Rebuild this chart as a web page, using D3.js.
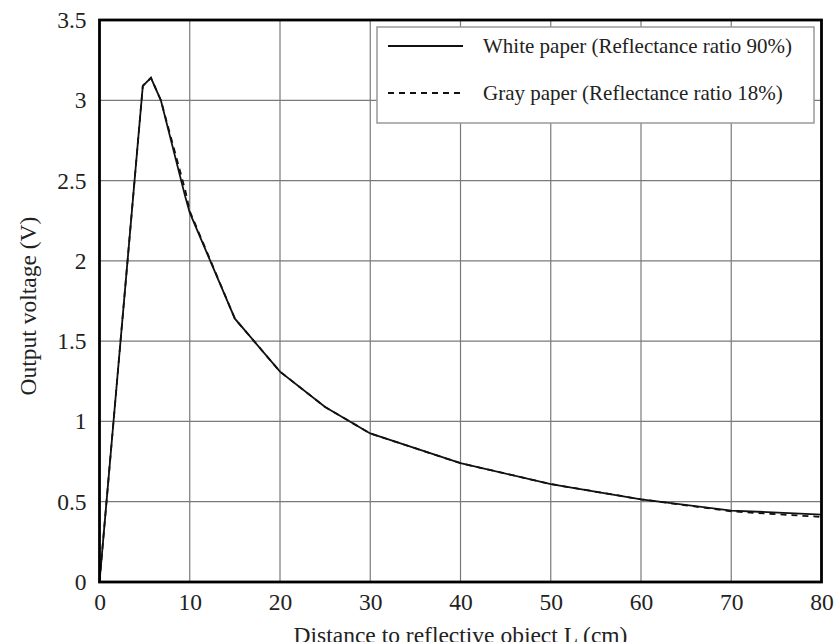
<!DOCTYPE html>
<html>
<head>
<meta charset="utf-8">
<script src="https://cdn.jsdelivr.net/npm/d3@7"></script>
<style>
  body { margin: 0; background: #fff; }
  svg { display: block; font-family: "Liberation Serif", "DejaVu Serif", serif; }
</style>
</head>
<body>
<script>
var distance = [0, 4.8, 5.7, 6.8, 9.5, 10, 15, 20, 25, 30, 40, 50, 60, 70, 80];
var whitePaper = [0, 3.09, 3.14, 3.0, 2.40, 2.30, 1.64, 1.31, 1.09, 0.925, 0.74, 0.61, 0.515, 0.445, 0.42];
var grayPaper = [0, 3.09, 3.14, 3.0, 2.44, 2.31, 1.64, 1.31, 1.09, 0.925, 0.74, 0.61, 0.515, 0.44, 0.405];
var xTicks = [0, 10, 20, 30, 40, 50, 60, 70, 80];
var yTicks = [0, 0.5, 1, 1.5, 2, 2.5, 3, 3.5];
var legendLabels = ["White paper (Reflectance ratio 90%)", "Gray paper (Reflectance ratio 18%)"];

var drawChart = function(){

    var W = 834, H = 642;
    var plotL = 99.5, plotR = 821.5, plotT = 20, plotB = 582;

    var svg = d3.select("body").append("svg")
                .attr("width", W)
                .attr("height", H);

    var x = d3.scaleLinear().domain([0, 80]).range([plotL, plotR]);
    var y = d3.scaleLinear().domain([0, 3.5]).range([plotB, plotT]);

    // grid
    var grid = svg.append("g").attr("class", "grid");
    grid.selectAll("line.vx").data(xTicks.slice(1, -1)).enter().append("line")
        .attr("x1", d => x(d)).attr("x2", d => x(d))
        .attr("y1", plotT).attr("y2", plotB)
        .attr("stroke", "#7a7a7a").attr("stroke-width", 1.2);
    grid.selectAll("line.hy").data(yTicks.slice(1, -1)).enter().append("line")
        .attr("x1", plotL).attr("x2", plotR)
        .attr("y1", d => y(d)).attr("y2", d => y(d))
        .attr("stroke", "#7a7a7a").attr("stroke-width", 1.2);

    // axes (labels only, frame drawn separately)
    var xAxis = svg.append("g")
        .attr("transform", "translate(0," + plotB + ")")
        .call(d3.axisBottom(x).tickValues(xTicks).tickSize(0).tickPadding(11).tickFormat(d3.format("d")));
    var yAxis = svg.append("g")
        .attr("transform", "translate(" + plotL + ",0)")
        .call(d3.axisLeft(y).tickValues(yTicks).tickSize(0).tickPadding(13).tickFormat(d => String(d)));
    [xAxis, yAxis].forEach(function(a){
        a.select(".domain").remove();
        a.selectAll("text").attr("font-size", 23.5).attr("font-family", "Liberation Serif").attr("fill", "#222");
    });

    // legend
    var lg = svg.append("g");
    lg.append("rect")
      .attr("x", 377).attr("y", 27).attr("width", 437).attr("height", 96)
      .attr("fill", "#fff").attr("stroke", "#999").attr("stroke-width", 1.5);
    var styles = ["none", "6,5"];
    legendLabels.forEach(function(t, i){
        var yy = 46 + i * 47;
        lg.append("line")
          .attr("x1", 388).attr("x2", 463).attr("y1", yy).attr("y2", yy)
          .attr("stroke", "#111").attr("stroke-width", 2)
          .attr("stroke-dasharray", styles[i]);
        lg.append("text")
          .attr("x", 483).attr("y", yy + 7)
          .attr("font-size", 21).attr("fill", "#222")
          .text(t);
    });

    // series
    var line = d3.line().x(d => x(d[0])).y(d => y(d[1]));
    svg.append("path")
       .datum(d3.zip(distance, grayPaper))
       .attr("d", line).attr("fill", "none")
       .attr("stroke", "#111").attr("stroke-width", 1.8)
       .attr("stroke-dasharray", "6,5");
    svg.append("path")
       .datum(d3.zip(distance, whitePaper))
       .attr("d", line).attr("fill", "none")
       .attr("stroke", "#111").attr("stroke-width", 1.8);

    // frame
    svg.append("rect")
       .attr("x", plotL).attr("y", plotT)
       .attr("width", plotR - plotL).attr("height", plotB - plotT)
       .attr("fill", "none").attr("stroke", "#000").attr("stroke-width", 2.8);

    // axis titles
    svg.append("text")
       .attr("x", (plotL + plotR) / 2).attr("y", 643)
       .attr("text-anchor", "middle").attr("font-size", 23.5).attr("fill", "#222")
       .text("Distance to reflective object L (cm)");
    svg.append("text")
       .attr("transform", "translate(36,306) rotate(-90)")
       .attr("text-anchor", "middle").attr("font-size", 23.5).attr("fill", "#222")
       .text("Output voltage (V)");
};

drawChart();
</script>
</body>
</html>
